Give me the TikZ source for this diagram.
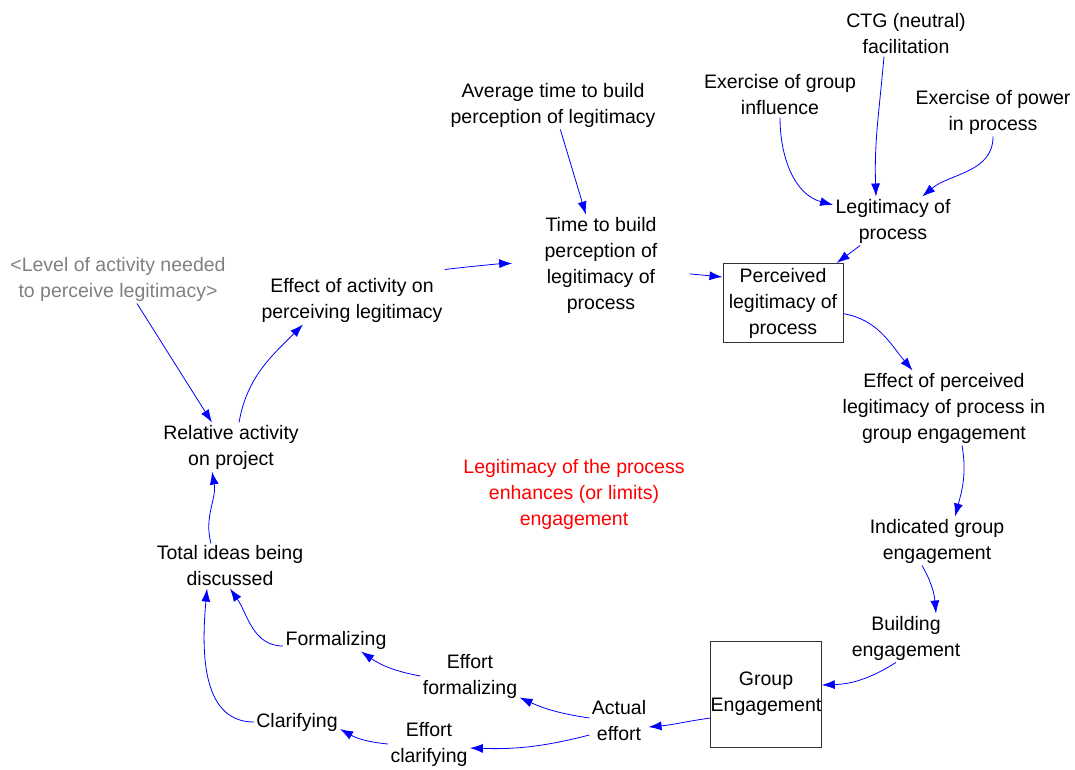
\documentclass[tikz,border=0pt]{standalone}
\usepackage{fontspec}
\setmainfont{Liberation Sans}
\usepackage{xcolor}
\usetikzlibrary{arrows.meta}

\begin{document}
\begin{tikzpicture}[x=1pt,y=1pt,->,>={Latex[length=13pt,width=9pt]},blue,line width=0.8pt,
    every node/.style={black,align=center,inner sep=2pt,font=\fontsize{19.5}{26}\selectfont},
    stockbox/.style={draw=black!80,line width=1pt,inner sep=0pt},
    shadow/.style={text=black!50},
    loopnote/.style={text=red}]
        \useasboundingbox (0,0) rectangle (1075,-769);
        \node (ctg) at (906,-34) {CTG (neutral)\\facilitation};
        \node (grpinf) at (780,-95) {Exercise of group\\influence};
        \node (power) at (993,-112) {Exercise of power\\in process};
        \node (legit) at (893,-221) {Legitimacy of\\process};
        \node (avgtime) at (553,-105) {Average time to build\\perception of legitimacy};
        \node (timebuild) at (601,-265) {Time to build\\perception of\\legitimacy of\\process};
        \node[stockbox,minimum width=120pt,minimum height=79pt] (perceived) at (783,-303) {Perceived\\legitimacy of\\process};
        \node[shadow] (levelact) at (118,-279) {<Level of activity needed\\to perceive legitimacy>};
        \node (effact) at (352,-300) {Effect of activity on\\perceiving legitimacy};
        \node (relact) at (231,-447) {Relative activity\\on project};
        \node[loopnote] (note) at (574,-494) {Legitimacy of the process\\enhances (or limits)\\engagement};
        \node (effperc) at (944,-408) {Effect of perceived\\legitimacy of process in\\group engagement};
        \node (indic) at (937,-541) {Indicated group\\engagement};
        \node (building) at (906,-638) {Building\\engagement};
        \node[stockbox,minimum width=108pt,minimum height=106pt] (engage) at (766,-694) {Group\\Engagement};
        \node (actual) at (619,-721) {Actual\\effort};
        \node (efffor) at (470,-676) {Effort\\formalizing};
        \node (effcla) at (429,-744) {Effort\\clarifying};
        \node (formal) at (336,-640) {Formalizing};
        \node (clarif) at (297,-722) {Clarifying};
        \node (total) at (230,-566) {Total ideas being\\discussed};
        \draw (grpinf) to[out=-90,in=165] (legit);
        \draw ([xshift=-22pt]ctg.south) to[out=-95,in=92] ([xshift=-17pt]legit.north);
        \draw (power.south) to[out=-90,in=40] (legit);
        \draw (legit) -- (perceived);
        \draw (avgtime) -- (timebuild);
        \draw[shorten >=30pt] ([yshift=6pt]effact.north east) to[bend left=3] ([yshift=2pt]timebuild.west);
        \draw[shorten <=30pt] ([yshift=-6pt]timebuild.east) -- ([yshift=26pt]perceived.west);
        \draw (perceived) to[out=-10,in=130] (effperc);
        \draw ([xshift=18pt]effperc.south) to[out=-80,in=75] ([xshift=18pt]indic.north);
        \draw ([xshift=-15pt]indic.south) to[out=-60,in=95] ([xshift=30pt]building.north);
        \draw ([xshift=-10pt]building.south) to[bend left=15] ([yshift=9pt]engage.east);
        \draw ([yshift=-24pt]engage.west) to[out=188,in=5] ([yshift=-6pt]actual.east);
        \draw ([yshift=3pt]actual.west) to[bend left=8] ([yshift=3pt]efffor.south east);
        \draw ([yshift=-14pt]actual.west) to[bend left=8] ([yshift=-4pt]effcla.east);
        \draw (efffor.west) to[bend left=12] ([xshift=25pt]formal.south);
        \draw (effcla.west) to[bend left=12] ([yshift=-7pt]clarif.east);
        \draw ([yshift=-6pt]formal.west) to[out=180,in=-55] (total.south);
        \draw (clarif.west) to[out=180,in=-95] ([xshift=-23pt]total.south);
        \draw ([xshift=-19pt]total.north) to[out=105,in=-80] ([xshift=-19pt]relact.south);
        \draw ([xshift=19pt]levelact.south) -- ([xshift=-19pt]relact.north);
        \draw ([xshift=8pt]relact.north) to[out=80,in=-135] ([xshift=-49pt]effact.south);
\end{tikzpicture}
\end{document}
